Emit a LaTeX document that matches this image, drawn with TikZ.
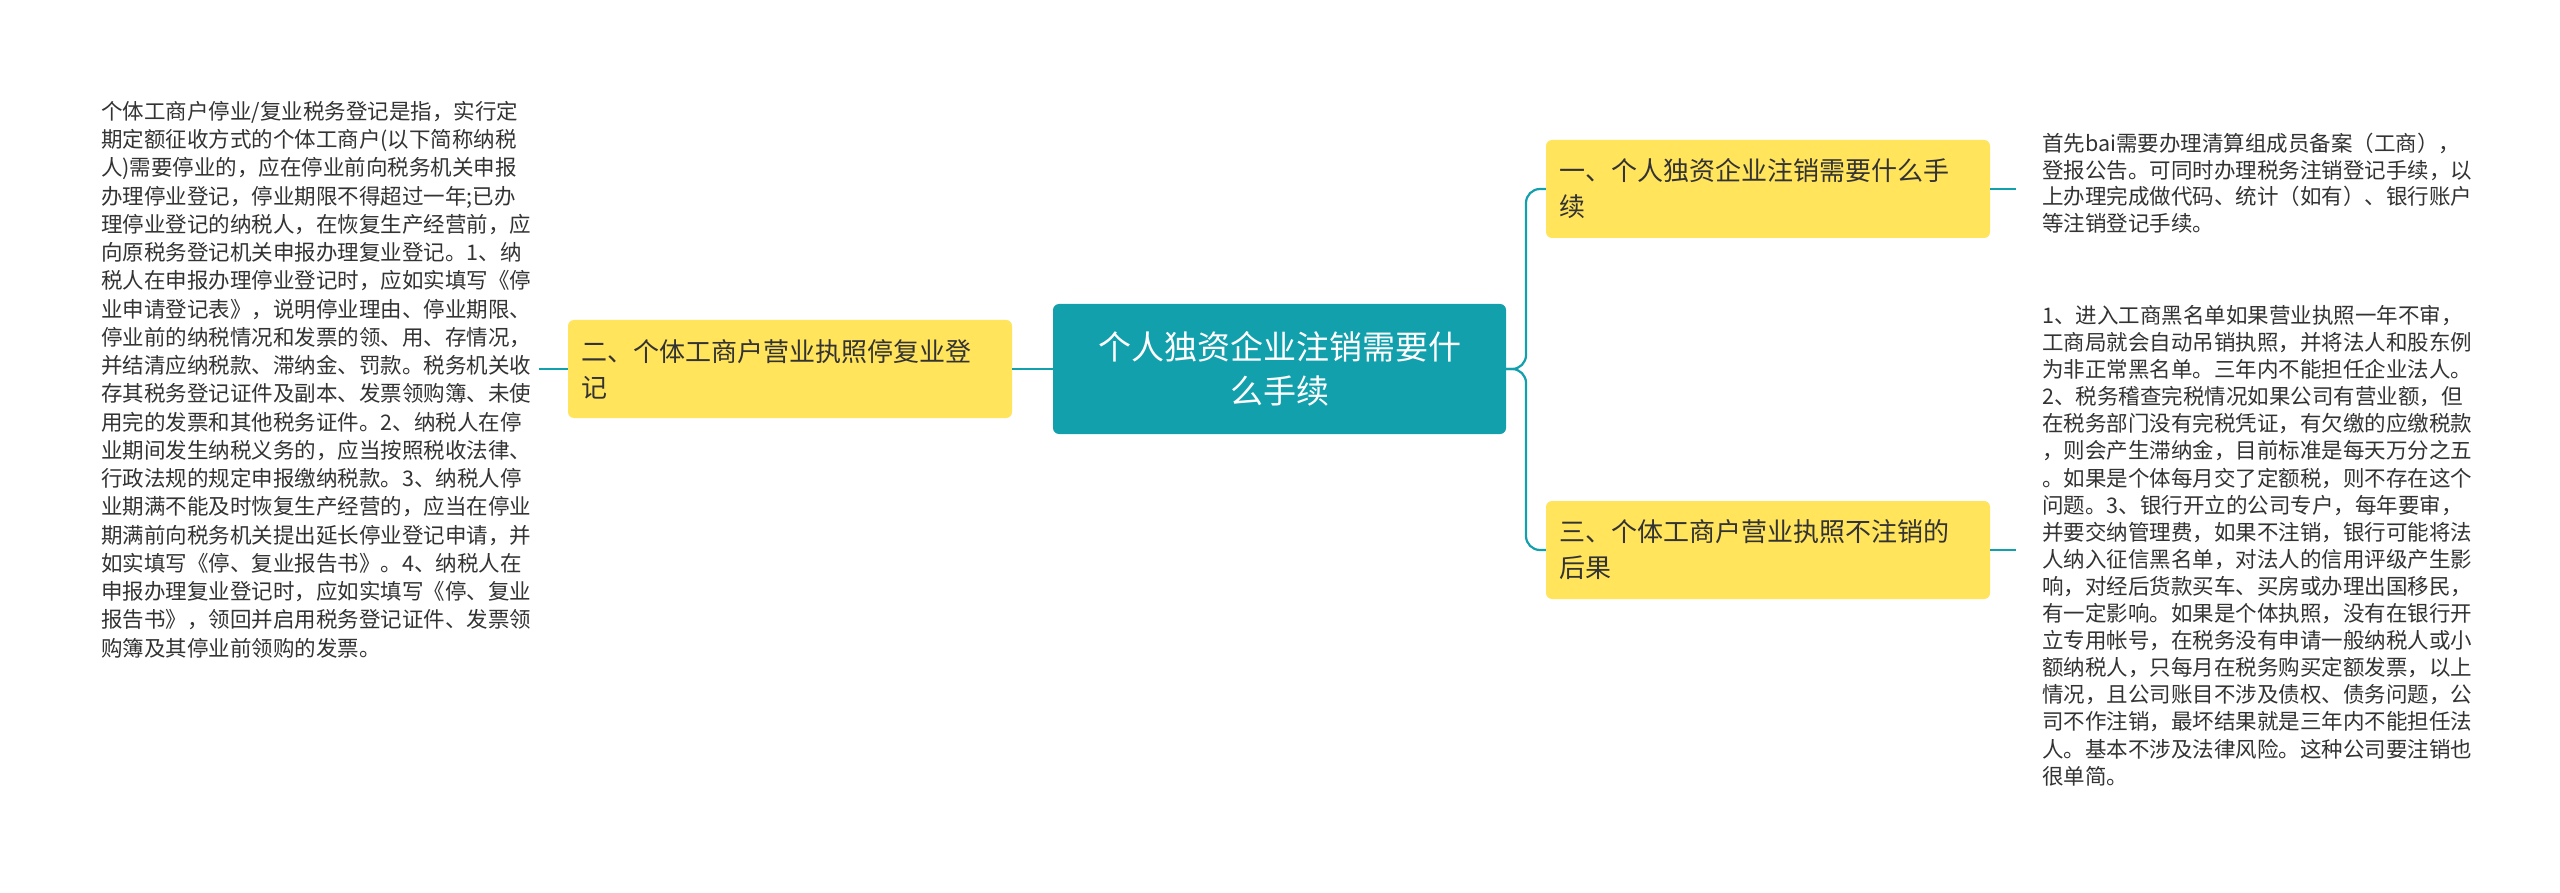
\documentclass[tikz,border=0pt]{standalone}
\usepackage{fontspec}
\setmainfont{Noto Sans CJK SC}
\definecolor{teal1}{HTML}{13A0AD}
\definecolor{yel}{HTML}{FFE45C}
\definecolor{txt}{HTML}{333333}
\begin{document}
\begin{tikzpicture}[x=1pt,y=-1pt,
  center/.style={fill=teal1,rounded corners=6pt,minimum width=453pt,minimum height=130pt,text=white,font=\fontsize{33}{44}\selectfont,align=center,inner sep=0pt},
  sub/.style={fill=yel,rounded corners=6pt,minimum width=444pt,minimum height=98pt,text=txt,font=\fontsize{26}{36}\selectfont,align=left,text width=418pt,inner sep=0pt},
  leaf/.style={text=txt,align=left,inner sep=0pt,anchor=north west},
  conn/.style={draw=teal1,line width=2.2pt,rounded corners=14pt}]
\useasboundingbox (0,0) rectangle (2560,893);
\fill[white] (0,0) rectangle (2560,893);
\node[center] (c) at (1279.5,369) {个人独资企业注销需要什\\么手续};
\node[sub] (l) at (790,369) {二、个体工商户营业执照停复业登\\记};
\node[sub] (r1) at (1768,189) {一、个人独资企业注销需要什么手\\续};
\node[sub] (r2) at (1768,550) {三、个体工商户营业执照不注销的\\后果};
\node[leaf,font=\fontsize{21.5}{28.25}\selectfont] (lt) at (101,101) {个体工商户停业/复业税务登记是指，实行定\\期定额征收方式的个体工商户(以下简称纳税\\人)需要停业的，应在停业前向税务机关申报\\办理停业登记，停业期限不得超过一年;已办\\理停业登记的纳税人，在恢复生产经营前，应\\向原税务登记机关申报办理复业登记。1、纳\\税人在申报办理停业登记时，应如实填写《停\\业申请登记表》，说明停业理由、停业期限、\\停业前的纳税情况和发票的领、用、存情况，\\并结清应纳税款、滞纳金、罚款。税务机关收\\存其税务登记证件及副本、发票领购簿、未使\\用完的发票和其他税务证件。2、纳税人在停\\业期间发生纳税义务的，应当按照税收法律、\\行政法规的规定申报缴纳税款。3、纳税人停\\业期满不能及时恢复生产经营的，应当在停业\\期满前向税务机关提出延长停业登记申请，并\\如实填写《停、复业报告书》。4、纳税人在\\申报办理复业登记时，应如实填写《停、复业\\报告书》，领回并启用税务登记证件、发票领\\购簿及其停业前领购的发票。};
\node[leaf,font=\fontsize{21.5}{26.5}\selectfont] (rt1) at (2042,133) {首先bai需要办理清算组成员备案（工商），\\登报公告。可同时办理税务注销登记手续，以\\上办理完成做代码、统计（如有）、银行账户\\等注销登记手续。};
\node[leaf,font=\fontsize{21.5}{27.1}\selectfont] (rt2) at (2042,305) {1、进入工商黑名单如果营业执照一年不审，\\工商局就会自动吊销执照，并将法人和股东例\\为非正常黑名单。三年内不能担任企业法人。\\2、税务稽查完税情况如果公司有营业额，但\\在税务部门没有完税凭证，有欠缴的应缴税款\\，则会产生滞纳金，目前标准是每天万分之五\\。如果是个体每月交了定额税，则不存在这个\\问题。3、银行开立的公司专户，每年要审，\\并要交纳管理费，如果不注销，银行可能将法\\人纳入征信黑名单，对法人的信用评级产生影\\响，对经后货款买车、买房或办理出国移民，\\有一定影响。如果是个体执照，没有在银行开\\立专用帐号，在税务没有申请一般纳税人或小\\额纳税人，只每月在税务购买定额发票，以上\\情况，且公司账目不涉及债权、债务问题，公\\司不作注销，最坏结果就是三年内不能担任法\\人。基本不涉及法律风险。这种公司要注销也\\很单简。};
\draw[conn] (c.east) -- (1526,369) |- (r1.west);
\draw[conn] (c.east) -- (1526,369) |- (r2.west);
\draw[conn] (c.west) -- (l.east);
\draw[conn] (l.west) -- (539,369);
\draw[conn] (r1.east) -- (2016,189);
\draw[conn] (r2.east) -- (2016,550);
\end{tikzpicture}
\end{document}
